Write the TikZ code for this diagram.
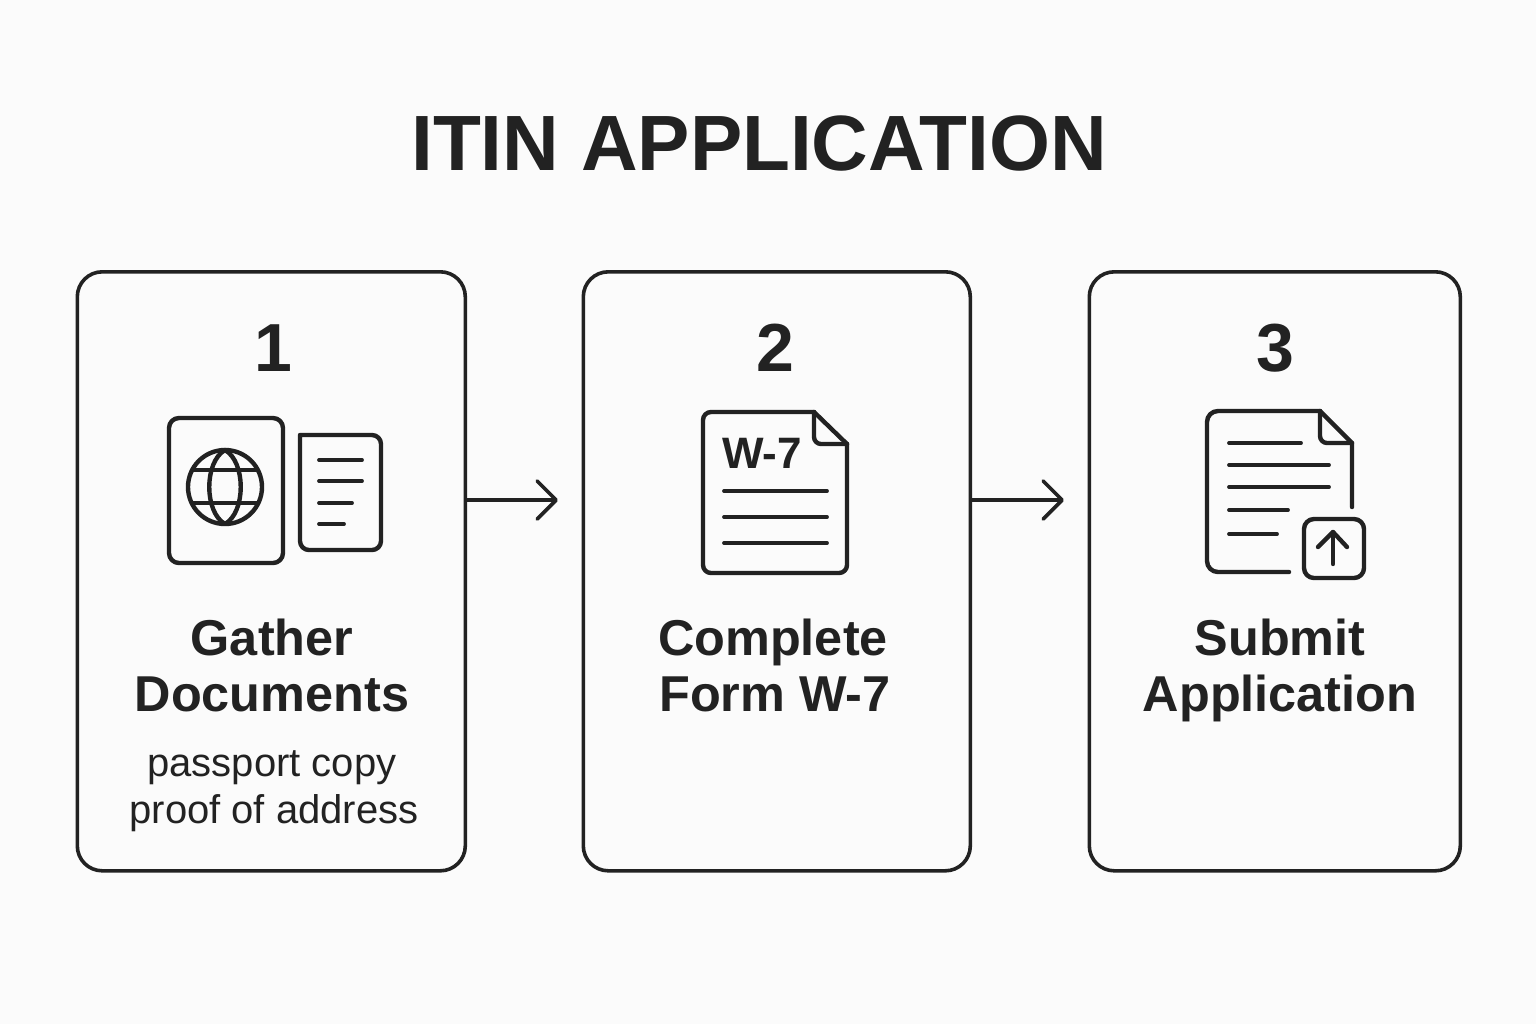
\documentclass[tikz,border=0pt]{standalone}
\usepackage{fontspec}
\setmainfont{Liberation Sans}
\usetikzlibrary{arrows.meta}
\definecolor{ink}{HTML}{222222}
\definecolor{paper}{HTML}{FBFBFB}
\tikzset{
  x=0.5pt,y=-0.5pt,
  card/.style={draw=ink,line width=1.8pt,rounded corners=12.5pt,inner sep=0pt,minimum width=#1,anchor=north west},
  icon/.style={draw=ink,line width=2.2pt,line cap=round,line join=round},
  thin icon/.style={icon,line width=1.9pt},
  flow/.style={draw=ink,line width=1.8pt,-{Straight Barb[length=9.5pt,width=19pt,line width=1.8pt,round]}},
  txt/.style={text=ink,anchor=base,inner sep=0pt,align=center},
  title/.style={txt,font=\fontsize{39.2}{39.2}\selectfont\bfseries},
  num/.style={txt,font=\fontsize{34}{34}\selectfont\bfseries},
  head/.style={txt,font=\fontsize{25.2}{25.2}\selectfont\bfseries},
  sub/.style={txt,font=\fontsize{20}{20}\selectfont},
}
\begin{document}
\begin{tikzpicture}
\fill[paper] (0,0) rectangle (1536,1024);
\useasboundingbox (0,0) rectangle (1536,1024);
\node[title] (ttl) at (759,170) {ITIN APPLICATION};
% cards
\node[card=194pt,minimum height=299.5pt] (c1) at (75.5,270) {};
\node[card=193.5pt,minimum height=299.5pt] (c2) at (581.5,270) {};
\node[card=185.5pt,minimum height=299.5pt] (c3) at (1087.5,270) {};
% arrows
\coordinate (a1) at (558,500);
\coordinate (a2) at (1064,500);
\draw[flow] (a1 -| c1.east) -- (a1);
\draw[flow] (a2 -| c2.east) -- (a2);
% numbers
\node[num] (n1) at (273,371) {1};
\node[num] (n2) at (775,371) {2};
\node[num] (n3) at (1275,371) {3};
% headings
\node[head] (h1a) at (272,655) {Gather};
\node[head] (h1b) at (272,711) {Documents};
\node[sub] (s1a) at (272,776) {passport copy};
\node[sub] (s1b) at (274,823) {proof of address};
\node[head] (h2a) at (773,655) {Complete};
\node[head] (h2b) at (775,711) {Form W-7};
\node[head] (h3a) at (1280,655) {Submit};
\node[head] (h3b) at (1280,711) {Application};
% passport icon
\draw[icon,rounded corners=5pt] (169,418) rectangle (283,563);
\draw[icon] (225,487) circle (37);
\draw[icon] (225,450) .. controls (204,462) and (204,512) .. (225,524) .. controls (246,512) and (246,462) .. (225,450);
\draw[icon] (193,470) -- (257,470);
\draw[icon] (193,503) -- (257,503);
% small document
\draw[icon,rounded corners=4.5pt] (300,435) -- (381,435) -- (381,550) -- (300,550) [sharp corners] -- cycle;
\foreach \yy/\xx in {460/362,481/362,503/352,524/344}
  \draw[thin icon] (319,\yy) -- (\xx,\yy);
% W-7 document
\draw[icon,rounded corners=4pt] (814,412) -- (703,412) -- (703,573) -- (847,573) -- (847,444);
\draw[icon] (847,444) -- (814,412);
\draw[icon,rounded corners=3.5pt] (814,412) -- (814,444) -- (847,444);
\node[txt,font=\fontsize{22}{22}\selectfont\bfseries] (w7) at (762,468) {W-7};
\foreach \yy in {491,517,543}
  \draw[thin icon] (724,\yy) -- (827,\yy);
% upload document
\draw[icon] (1352,507) -- (1352,443) -- (1320,411);
\draw[icon,rounded corners=5.5pt] (1320,411) -- (1207,411) -- (1207,572) -- (1289,572);
\draw[icon,rounded corners=3.5pt] (1320,411) -- (1320,443) -- (1352,443);
\foreach \yy/\xx in {443/1301,465/1329,487/1329,510/1288,534/1277}
  \draw[thin icon] (1229,\yy) -- (\xx,\yy);
\draw[icon,rounded corners=5pt] (1304,519) rectangle (1364,578);
\draw[icon] (1333,564) -- (1333,532);
\draw[icon] (1318,547) -- (1333,532) -- (1347,547);
\end{tikzpicture}
\end{document}
